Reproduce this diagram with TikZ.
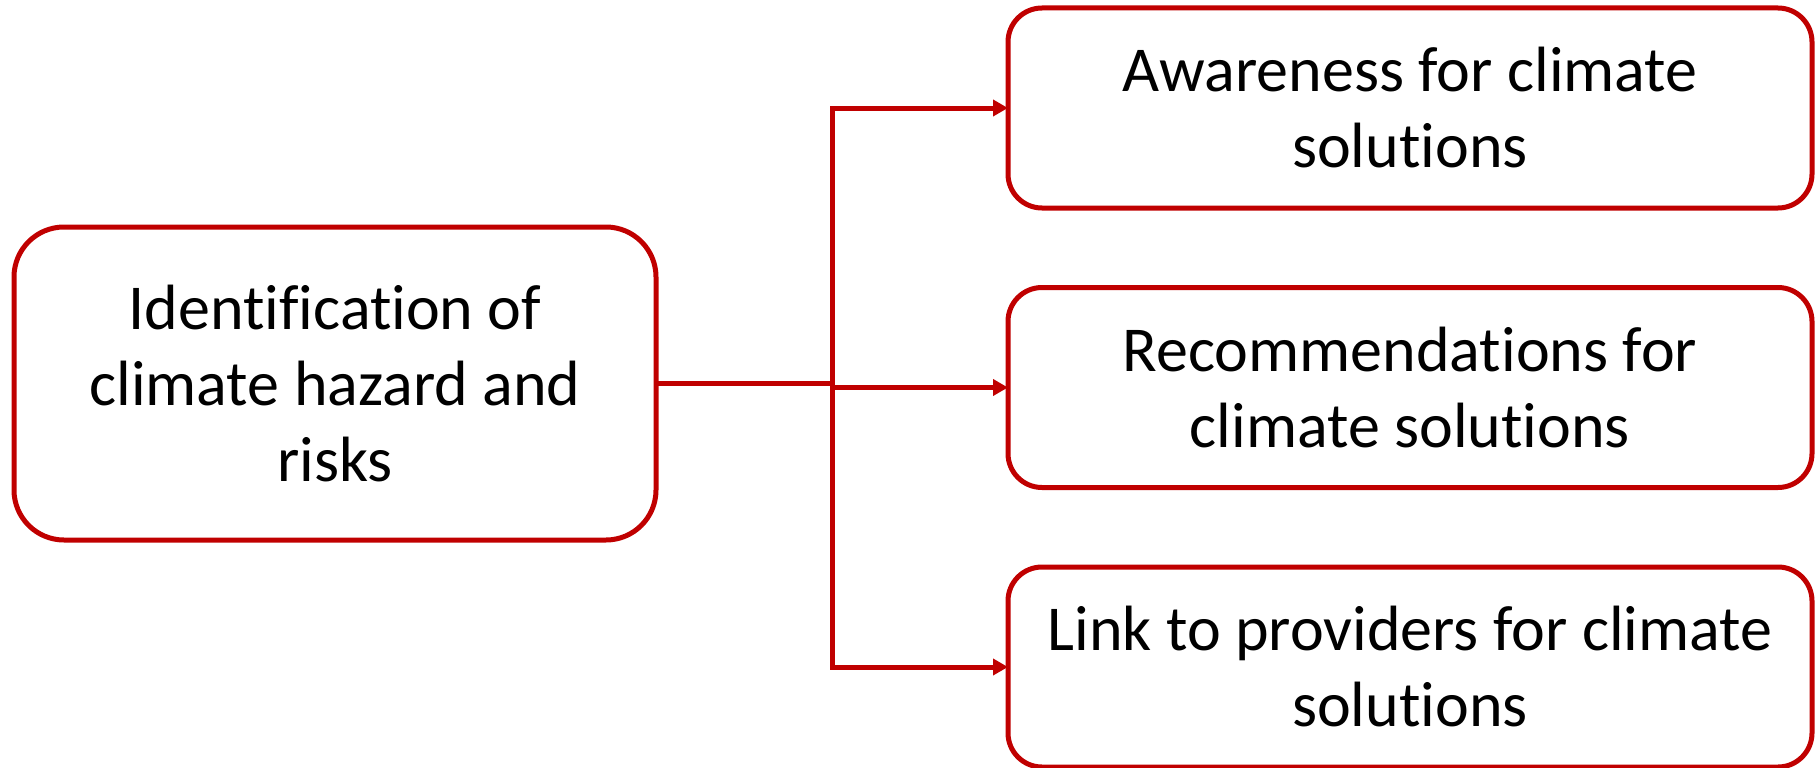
\documentclass[tikz,border=0pt]{standalone}
\usepackage{fontspec}
\setmainfont{Carlito}[Ligatures={NoCommon}]
\usetikzlibrary{arrows.meta}
\definecolor{dred}{HTML}{C00000}
\tikzset{
  box/.style={draw=dred, line width=5pt, fill=white, align=center, inner sep=0pt, outer sep=0pt,
    font=\fontsize{64}{76}\selectfont},
  bigbox/.style={box, rounded corners=50pt, minimum width=642pt, minimum height=313pt},
  smallbox/.style={box, rounded corners=34pt, minimum width=804pt, minimum height=200pt},
  conn/.style={draw=dred, line width=5pt},
  tip/.style={-{Triangle[length=15pt,width=16pt]}},
  tips/.style={{Triangle[length=15pt,width=16pt]}-{Triangle[length=15pt,width=16pt]}}
}
\begin{document}
\begin{tikzpicture}[x=1pt,y=-1pt]
\useasboundingbox (0,0) rectangle (1815,768);
\node[bigbox] (L) at (335,383.5) {Identification of\\climate hazard and\\risks};
\node[smallbox] (R1) at (1410,108) {Awareness for climate\\solutions};
\node[smallbox] (R2) at (1410,387.5) {Recommendations for\\climate solutions};
\node[smallbox] (R3) at (1410,667) {Link to providers for climate\\solutions};
\coordinate (T) at (832,384);
\draw[conn] (L.east) -- (L.east -| T);
\draw[conn,tips,line join=miter] (R1.west) -- (R1.west -| T) -- (R3.west -| T) -- (R3.west);
\draw[conn,tip] (R2.west -| T) -- (R2.west);
\end{tikzpicture}
\end{document}
